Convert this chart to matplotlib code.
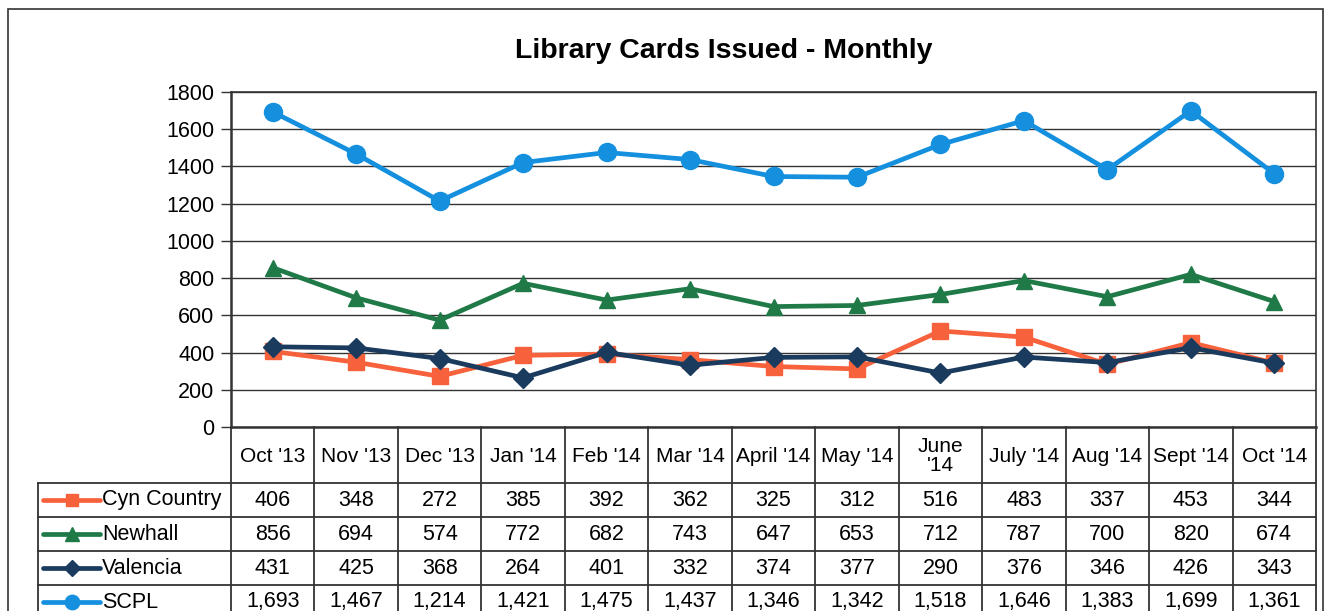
import matplotlib
matplotlib.use("Agg")
from matplotlib import pyplot as plt
from matplotlib.patches import Rectangle

plt.rcParams['font.family'] = ['Liberation Sans', 'DejaVu Sans']

months = ["Oct '13", "Nov '13", "Dec '13", "Jan '14", "Feb '14", "Mar '14", "April '14",
          "May '14", "June\n'14", "July '14", "Aug '14", "Sept '14", "Oct '14"]
branches = ["Cyn Country", "Newhall", "Valencia", "SCPL"]
cyn_country = [406, 348, 272, 385, 392, 362, 325, 312, 516, 483, 337, 453, 344]
newhall = [856, 694, 574, 772, 682, 743, 647, 653, 712, 787, 700, 820, 674]
valencia = [431, 425, 368, 264, 401, 332, 374, 377, 290, 376, 346, 426, 343]
scpl = [1693, 1467, 1214, 1421, 1475, 1437, 1346, 1342, 1518, 1646, 1383, 1699, 1361]

series = [cyn_country, newhall, valencia, scpl]
colors = ["#F7613B", "#1F7A48", "#1A3B5E", "#1490DE"]
markers = ["s", "^", "D", "o"]
msizes = [11, 12, 10, 13]

W, H = 1327, 611
fig = plt.figure(figsize=(W / 100, H / 100), dpi=100)

def fx(px):
    return px / W

def fy(py):
    return 1 - py / H

# outer frame
fig.add_artist(Rectangle((fx(8), fy(640)), fx(1323) - fx(8), fy(9) - fy(640),
                         transform=fig.transFigure, fill=False, ec="#333333", lw=1.2))

left, right, top, bottom = 231, 1316, 92, 427
ax = fig.add_axes([fx(left), fy(bottom), fx(right) - fx(left), fy(top) - fy(bottom)])
x = list(range(len(months)))
for vals, c, m, ms in zip(series, colors, markers, msizes):
    ax.plot(x, vals, color=c, lw=3.4, marker=m, ms=ms, zorder=3)
ax.set_xlim(-0.5, len(months) - 0.5)
ax.set_ylim(0, 1800)
ax.set_yticks(range(0, 1801, 200))
ax.yaxis.grid(True, color="#333333", lw=1)
ax.set_xticks([])
ax.tick_params(axis="y", length=7, width=1, labelsize=15.5, pad=5, color="#333333")
for s in ax.spines.values():
    s.set_color("#333333")
    s.set_linewidth(1.2)
ax.spines["left"].set_linewidth(1.8)
ax.spines["bottom"].set_linewidth(1.8)
fig.text(fx(724), fy(51), "Library Cards Issued - Monthly", fontsize=20.5,
         fontweight="bold", ha="center", va="center")

# data table below the plot
tax = fig.add_axes([fx(left), fy(619), fx(right) - fx(left), fy(bottom) - fy(619)])
tax.set_xlim(-0.5, len(months) - 0.5)
tax.set_ylim(619, 427)
tax.axis("off")
colw = (right - left) / len(months)
xl = -0.5 - (left - 38) / colw
rows = [427, 483, 517, 551, 585, 619]
lc = "#333333"
for i in range(len(months) + 1):
    tax.plot([i - 0.5, i - 0.5], [427, 619], color=lc, lw=1.3, clip_on=False)
tax.plot([xl, xl], [483, 619], color=lc, lw=1.3, clip_on=False)
for r in rows[1:]:
    tax.plot([xl, len(months) - 0.5], [r, r], color=lc, lw=1.3, clip_on=False)
for i, mth in enumerate(months):
    tax.text(i, 456, mth, ha="center", va="center", fontsize=15, linespacing=0.95)
for j, (name, vals, c, m, ms) in enumerate(zip(branches, series, colors, markers, msizes)):
    yc = (rows[j + 1] + rows[j + 2]) / 2
    kx0 = xl + 5 / colw
    kx1 = xl + 62 / colw
    tax.plot([kx0, kx1], [yc, yc], color=c, lw=3.4, clip_on=False, solid_capstyle="round")
    tax.plot([(kx0 + kx1) / 2], [yc], color=c, marker=m, ms=ms * 0.8, clip_on=False)
    tax.text(xl + 64 / colw, yc, name, ha="left", va="center", fontsize=15.5, clip_on=False)
    for i, v in enumerate(vals):
        tax.text(i, yc, f"{v:,}", ha="center", va="center", fontsize=15.5)

fig.savefig("out.png", dpi=100)
